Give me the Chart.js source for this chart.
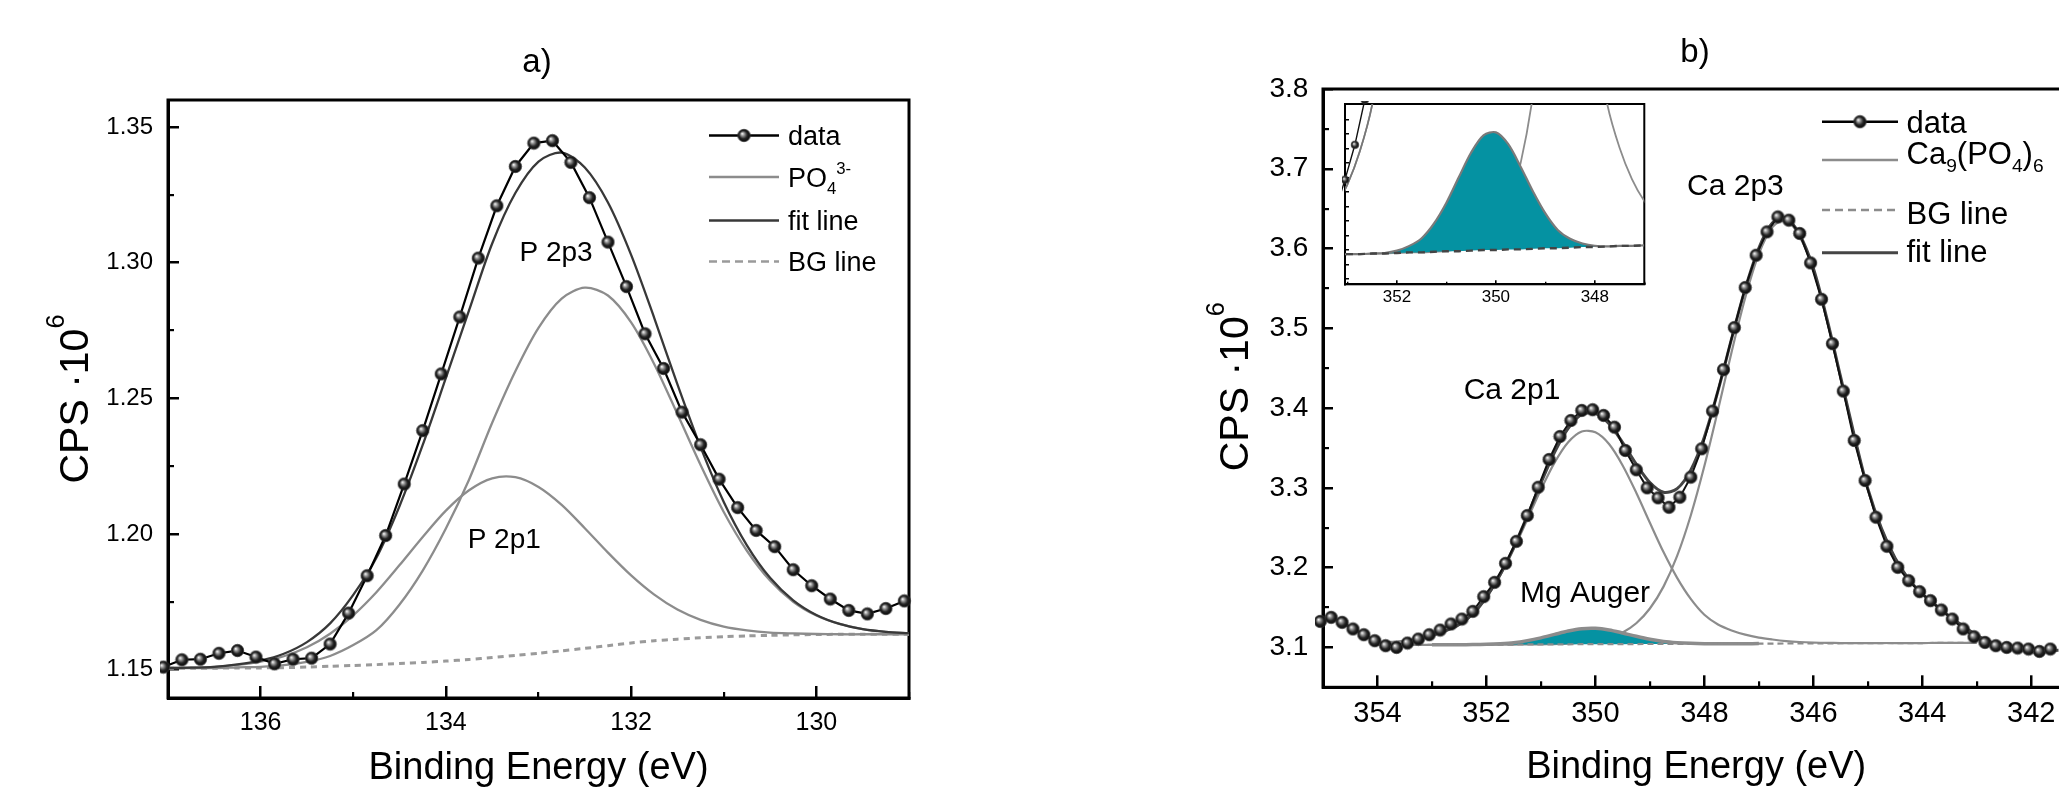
<!DOCTYPE html>
<html><head><meta charset="utf-8">
<script src="https://cdn.jsdelivr.net/npm/chart.js@4.4.1/dist/chart.umd.min.js"></script>
<style>
html,body{margin:0;padding:0;width:2059px;height:791px;overflow:hidden;background:#fff}
#wrap{position:relative;width:2059px;height:791px;overflow:hidden;background:#fff}
canvas{position:absolute}
#ca{left:0;top:0}
#cb{left:1150px;top:0}
#ci{left:1300px;top:80px}
</style></head><body><div id="wrap">
<canvas id="ca" width="1000" height="791"></canvas>
<canvas id="cb" width="960" height="791"></canvas>
<canvas id="ci" width="380" height="240"></canvas>
</div>
<script>
const FONT = "'Liberation Sans', Arial, Helvetica, sans-serif";

// ---------- Panel a) P 2p ----------
const aDataX = [137.05,136.85,136.65,136.45,136.25,136.05,135.85,135.65,135.45,135.25,135.05,134.85,134.65,134.45,134.25,134.05,133.85,133.65,133.45,133.25,133.05,132.85,132.65,132.45,132.25,132.05,131.85,131.65,131.45,131.25,131.05,130.85,130.65,130.45,130.25,130.05,129.85,129.65,129.45,129.25,129.05];
const aDataY = [1.1509,1.1536,1.1538,1.1560,1.1570,1.1546,1.1521,1.1538,1.1542,1.1594,1.1708,1.1846,1.1994,1.2184,1.2381,1.2590,1.2800,1.3017,1.3210,1.3355,1.3441,1.3450,1.3370,1.3240,1.3076,1.2912,1.2738,1.2610,1.2449,1.2329,1.2202,1.2097,1.2013,1.1953,1.1868,1.1809,1.1760,1.1718,1.1705,1.1725,1.1753];
const aGridX = [137,136.75,136.5,136.25,136,135.75,135.5,135.25,135,134.75,134.5,134.25,134,133.75,133.5,133.25,133,132.75,132.5,132.25,132,131.75,131.5,131.25,131,130.75,130.5,130.25,130,129.75,129.5,129.25,129];
const aBG   = [1.1505,1.1505,1.1505,1.1506,1.1506,1.1507,1.1509,1.1512,1.1515,1.1518,1.1522,1.1526,1.1531,1.1537,1.1544,1.1552,1.1560,1.1569,1.1578,1.1588,1.1598,1.1606,1.1612,1.1617,1.1621,1.1624,1.1626,1.1628,1.1629,1.1630,1.1630,1.1630,1.1630];
const aP2p3 = [1.1505,1.1505,1.1505,1.1508,1.1510,1.1516,1.1528,1.1550,1.1590,1.1645,1.1740,1.1865,1.2020,1.2200,1.2410,1.2600,1.2760,1.2868,1.2908,1.2879,1.2780,1.2626,1.2442,1.2254,1.2081,1.1938,1.1828,1.1750,1.1699,1.1668,1.1649,1.1639,1.1634];
const aP2p1 = [1.1506,1.1507,1.1510,1.1517,1.1529,1.1549,1.1582,1.1632,1.1700,1.1785,1.1885,1.1989,1.2086,1.2161,1.2205,1.2209,1.2173,1.2107,1.2021,1.1931,1.1847,1.1776,1.1721,1.1683,1.1658,1.1644,1.1636,1.1633,1.1631,1.1630,1.1630,1.1630,1.1630];
const aFit  = [1.1506,1.1507,1.1510,1.1519,1.1533,1.1558,1.1601,1.1670,1.1775,1.1912,1.2103,1.2328,1.2575,1.2824,1.3071,1.3257,1.3373,1.3406,1.3351,1.3222,1.3029,1.2796,1.2551,1.2320,1.2118,1.1958,1.1838,1.1755,1.1701,1.1668,1.1649,1.1639,1.1634];
const aXTicks = [130,132,134,136];
const aXMinor = [129,131,133,135,137];
const aYTicks = [1.15,1.20,1.25,1.30,1.35];
const aYMinor = [1.175,1.225,1.275,1.325];

// ---------- Panel b) Ca 2p ----------
const bDataX = [355.05,354.85,354.65,354.45,354.25,354.05,353.85,353.65,353.45,353.25,353.05,352.85,352.65,352.45,352.25,352.05,351.85,351.65,351.45,351.25,351.05,350.85,350.65,350.45,350.25,350.05,349.85,349.65,349.45,349.25,349.05,348.85,348.65,348.45,348.25,348.05,347.85,347.65,347.45,347.25,347.05,346.85,346.65,346.45,346.25,346.05,345.85,345.65,345.45,345.25,345.05,344.85,344.65,344.45,344.25,344.05,343.85,343.65,343.45,343.25,343.05,342.85,342.65,342.45,342.25,342.05,341.85,341.65];
const bDataY = [3.1326,3.1377,3.1314,3.1231,3.1159,3.1084,3.1021,3.1000,3.1055,3.1105,3.1159,3.1218,3.1294,3.1356,3.1452,3.1636,3.1816,3.2054,3.2330,3.2653,3.3008,3.3356,3.3644,3.3845,3.3971,3.3980,3.3908,3.3761,3.3469,3.3227,3.3000,3.2875,3.2757,3.2883,3.3134,3.3490,3.3962,3.4482,3.5009,3.5511,3.5916,3.6209,3.6397,3.6356,3.6189,3.5820,3.5364,3.4808,3.4213,3.3594,3.3092,3.2632,3.2268,3.2004,3.1837,3.1699,3.1586,3.1469,3.1356,3.1231,3.1134,3.1063,3.1021,3.1000,3.0992,3.0980,3.0950,3.0980];
const bGridX = [354,353.75,353.5,353.25,353,352.75,352.5,352.25,352,351.75,351.5,351.25,351,350.75,350.5,350.25,350,349.75,349.5,349.25,349,348.75,348.5,348.25,348,347.75,347.5,347.25,347,346.75,346.5,346.25,346,345.75,345.5,345.25,345,344.75,344.5,344.25,344,343.75,343.5,343.25,343];
const bBG  = [3.1030,3.1031,3.1031,3.1032,3.1033,3.1033,3.1034,3.1034,3.1035,3.1036,3.1036,3.1037,3.1038,3.1038,3.1039,3.1040,3.1040,3.1041,3.1041,3.1042,3.1043,3.1043,3.1044,3.1045,3.1045,3.1046,3.1047,3.1047,3.1048,3.1048,3.1049,3.1050,3.1050,3.1051,3.1052,3.1052,3.1053,3.1054,3.1054,3.1055,3.1055,3.1056,3.1057,3.1057,3.1058];
const b2p1 = [3.1054,3.1069,3.1085,3.1112,3.1151,3.1207,3.1286,3.1417,3.1627,3.1899,3.2231,3.2602,3.2978,3.3316,3.3572,3.3707,3.3696,3.3549,3.3281,3.2939,3.2563,3.2195,3.1872,3.1608,3.1409,3.1287,3.1213,3.1160,3.1123,3.1099,3.1080,3.1068,3.1061,3.1057,3.1055,3.1054,3.1054,3.1055,3.1055,3.1055,3.1055,3.1056,3.1057,3.1057,3.1058];
const b2p3 = [3.1030,3.1031,3.1031,3.1032,3.1033,3.1033,3.1034,3.1034,3.1035,3.1036,3.1036,3.1037,3.1038,3.1042,3.1047,3.1059,3.1079,3.1118,3.1187,3.1303,3.1488,3.1762,3.2147,3.2654,3.3273,3.3975,3.4704,3.5384,3.5932,3.6271,3.6349,3.6148,3.5733,3.5103,3.4381,3.3649,3.2981,3.2488,3.2116,3.1852,3.1666,3.1523,3.1386,3.1264,3.1148];
const bMgX = [353,352.75,352.5,352.25,352,351.75,351.5,351.25,351,350.75,350.5,350.25,350,349.75,349.5,349.25,349,348.75,348.5,348.25,348,347.75,347.5,347.25,347];
const bMg  = [3.1033,3.1033,3.1034,3.1035,3.1039,3.1047,3.1060,3.1085,3.1120,3.1163,3.1205,3.1234,3.1239,3.1219,3.1181,3.1139,3.1102,3.1074,3.1059,3.1051,3.1047,3.1046,3.1047,3.1047,3.1048];
const bFitX = [355.05,354.85,354.65,354.45,354.25,354.05,353.85,353.65,353.45,353.25,353,352.75,352.5,352.25,352,351.75,351.5,351.25,351,350.75,350.5,350.25,350,349.75,349.5,349.25,349,348.75,348.5,348.25,348,347.75,347.5,347.25,347,346.75,346.5,346.25,346,345.75,345.5,345.25,345,344.75,344.5,344.25,344,343.75,343.5,343.25,343,342.75,342.5,342.25,342,341.75,341.5];
const bFit = [3.1320,3.1360,3.1312,3.1232,3.1158,3.1085,3.1030,3.1015,3.1060,3.1112,3.1151,3.1207,3.1286,3.1418,3.1631,3.1910,3.2255,3.2650,3.3060,3.3445,3.3746,3.3920,3.3934,3.3804,3.3567,3.3297,3.3067,3.2945,3.2990,3.3223,3.3639,3.4216,3.4870,3.5497,3.6007,3.6322,3.6384,3.6172,3.5752,3.5119,3.4394,3.3660,3.2989,3.2494,3.2121,3.1856,3.1670,3.1527,3.1389,3.1268,3.1151,3.1065,3.1010,3.0990,3.0975,3.0960,3.0965];
const bXTicks = [342,344,346,348,350,352,354];
const bXMinor = [343,345,347,349,351,353,355];
const bYTicks = [3.1,3.2,3.3,3.4,3.5,3.6,3.7,3.8];
const bYMinor = [3.15,3.25,3.35,3.45,3.55,3.65,3.75];

// ---------- Inset (Mg Auger zoom) ----------
const iXTicks = [348,350,352];
const iXMinor = [347,349,351,353];
const iYMinor = [3.0991,3.1015,3.1040,3.1064,3.1089,3.1113,3.1138,3.1162,3.1187,3.1211,3.1236,3.1260];

// ---------- styles ----------
const TEAL = '#0592a2';
const GRAY = '#8c8c8c';

function sphere(r) {
  const s = Math.ceil(2 * r + 2);
  const c = document.createElement('canvas');
  c.width = s; c.height = s;
  const g = c.getContext('2d');
  const cx = s / 2, cy = s / 2;
  const gr = g.createRadialGradient(cx - r * 0.3, cy - r * 0.3, r * 0.05, cx, cy, r);
  gr.addColorStop(0, '#f2f2f2');
  gr.addColorStop(0.28, '#8e8e8e');
  gr.addColorStop(0.62, '#262626');
  gr.addColorStop(1, '#050505');
  g.fillStyle = gr;
  g.beginPath(); g.arc(cx, cy, r, 0, Math.PI * 2); g.fill();
  g.strokeStyle = '#3a3a3a'; g.lineWidth = 0.8; g.stroke();
  return c;
}
const SPH = sphere(6.2);
const SPH_S = sphere(3.8);

const pts = (xs, ys) => xs.map((x, i) => ({x: x, y: ys[i]}));

function drawRich(ctx, parts, x, y, size, align, rot, base) {
  ctx.save();
  ctx.translate(x, y);
  if (rot) ctx.rotate(rot);
  ctx.fillStyle = '#000';
  ctx.textBaseline = base;
  ctx.textAlign = 'left';
  const segs = parts.map(p => {
    const s = p.s ? size * 0.62 : size;
    ctx.font = s + 'px ' + FONT;
    return {t: p.t, s: s, w: ctx.measureText(p.t).width,
            dy: p.s === 'sub' ? size * 0.26 : (p.s === 'sup' ? -size * 0.48 : 0)};
  });
  const total = segs.reduce((a, b) => a + b.w, 0);
  let cx = align === 'center' ? -total / 2 : (align === 'right' ? -total : 0);
  segs.forEach(g => { ctx.font = g.s + 'px ' + FONT; ctx.fillText(g.t, cx, g.dy); cx += g.w; });
  ctx.restore();
}

function makeDecor(cfg) {
  return {
    id: cfg.id,
    beforeDraw(chart) {
      if (!cfg.whiteArea) return;
      const {ctx, chartArea: a} = chart;
      ctx.save(); ctx.fillStyle = '#fff';
      ctx.fillRect(a.left, a.top, a.right - a.left, a.bottom - a.top);
      ctx.restore();
    },
    beforeDatasetsDraw(chart) {
      const {ctx, chartArea: a} = chart;
      ctx.save(); ctx.strokeStyle = '#000'; ctx.lineWidth = cfg.frame;
      ctx.strokeRect(a.left, a.top, a.right - a.left, a.bottom - a.top);
      ctx.restore();
    },
    afterDraw(chart) {
      const ctx = chart.ctx;
      (cfg.texts || []).forEach(t => {
        let x = t.x, y = t.y;
        if (t.data) { x = chart.scales.x.getPixelForValue(t.x); y = chart.scales.y.getPixelForValue(t.y); }
        drawRich(ctx, t.parts, x, y, t.size, t.align || 'center', t.rot || 0, t.base || 'alphabetic');
      });
      (cfg.legend || []).forEach(L => {
        ctx.save();
        ctx.strokeStyle = L.color; ctx.lineWidth = L.width; ctx.setLineDash(L.dash || []);
        ctx.beginPath(); ctx.moveTo(L.x1, L.ly); ctx.lineTo(L.x2, L.ly); ctx.stroke();
        if (L.marker) ctx.drawImage(L.marker, (L.x1 + L.x2) / 2 - L.marker.width / 2, L.ly - L.marker.height / 2);
        ctx.restore();
        drawRich(ctx, L.parts, L.tx, L.ty, L.size, 'left', 0, 'alphabetic');
      });
    }
  };
}

function mkAxis(c) {
  const horiz = c.pos === 'bottom';
  return {
    type: 'linear', position: c.pos, weight: c.weight, min: c.min, max: c.max, reverse: !!c.reverse,
    afterBuildTicks: s => { s.ticks = c.ticks.map(v => ({value: v})); },
    afterFit: s => { if (horiz) s.height = c.size; else s.width = c.size; },
    ticks: {display: !!c.fmt, autoSkip: false, maxRotation: 0, minRotation: 0, padding: c.pad || 0, color: '#000',
            font: {family: FONT, size: c.font || 12}, callback: v => (c.fmt ? c.fmt(v) : '')},
    grid: {display: true, drawOnChartArea: false, drawTicks: true, tickLength: c.tl, tickColor: '#000',
           tickWidth: c.tw, lineWidth: c.tw, color: '#000'},
    border: {display: !!c.border, color: '#000', width: c.border || 0},
    title: c.title ? {display: true, text: c.title.text, color: '#000', font: {family: FONT, size: c.title.size},
                      padding: {top: 0, bottom: c.title.pad}} : {display: false}
  };
}

function lineDs(xs, ys, color, width, extra) {
  return Object.assign({
    data: pts(xs, ys), showLine: true, borderColor: color, borderWidth: width,
    pointRadius: 0, pointHoverRadius: 0, tension: 0.3, fill: false
  }, extra || {});
}

const baseOpts = {responsive: false, devicePixelRatio: 1, animation: false, events: [],
                  plugins: {legend: {display: false}, tooltip: {enabled: false}, title: {display: false}}};

// ---------- Chart a ----------
new Chart(document.getElementById('ca'), {
  type: 'scatter',
  data: {datasets: [
    lineDs(aGridX, aBG, '#9a9a9a', 3, {borderDash: [6, 5], order: 5, tension: 0.2}),
    lineDs(aGridX, aP2p3, GRAY, 2.3, {order: 4}),
    lineDs(aGridX, aP2p1, GRAY, 2.3, {order: 3}),
    lineDs(aGridX, aFit, '#383838', 2.3, {order: 2}),
    lineDs(aDataX, aDataY, '#000', 2.2, {order: 1, tension: 0, pointStyle: SPH, pointRadius: 6, clip: 8})
  ]},
  options: Object.assign({}, baseOpts, {
    layout: {padding: {left: 0, right: 91, top: 100, bottom: 0}},
    scales: {
      x: mkAxis({pos: 'bottom', weight: 1, min: 129, max: 137, reverse: true, ticks: aXTicks, fmt: v => String(v),
                 font: 25, pad: 22, tl: -12, tw: 2.5, size: 93, border: 3,
                 title: {text: 'Binding Energy (eV)', size: 38, pad: 0}}),
      x2: mkAxis({pos: 'bottom', weight: 0, min: 129, max: 137, reverse: true, ticks: aXMinor, tl: -6, tw: 2.2, size: 0}),
      y: mkAxis({pos: 'left', weight: 1, min: 1.1395, max: 1.36, ticks: aYTicks, fmt: v => v.toFixed(2),
                 font: 24, pad: 26, tl: -11, tw: 2.5, size: 168, border: 3}),
      y2: mkAxis({pos: 'left', weight: 0, min: 1.1395, max: 1.36, ticks: aYMinor, tl: -6, tw: 2.2, size: 0})
    }
  }),
  plugins: [makeDecor({
    id: 'decorA', frame: 3,
    texts: [
      {x: 537, y: 72, parts: [{t: 'a)'}], size: 33},
      {x: 76.5, y: 399, parts: [{t: 'CPS \u00B710'}, {t: '6', s: 'sup'}], size: 41, rot: -Math.PI / 2, base: 'middle'},
      {data: true, x: 132.81, y: 1.3033, parts: [{t: 'P 2p3'}], size: 28, base: 'middle'},
      {data: true, x: 133.37, y: 1.1975, parts: [{t: 'P 2p1'}], size: 28, base: 'middle'}
    ],
    legend: [
      {x1: 709, x2: 779, ly: 135.5, color: '#000', width: 2.5, marker: SPH, tx: 788, ty: 145, size: 27, parts: [{t: 'data'}]},
      {x1: 709, x2: 779, ly: 177, color: GRAY, width: 2.5, tx: 788, ty: 187, size: 27, parts: [{t: 'PO'}, {t: '4', s: 'sub'}, {t: '3-', s: 'sup'}]},
      {x1: 709, x2: 779, ly: 220.5, color: '#383838', width: 2.5, tx: 788, ty: 230, size: 27, parts: [{t: 'fit line'}]},
      {x1: 709, x2: 779, ly: 261.5, color: '#9a9a9a', width: 2.5, dash: [8, 5], tx: 788, ty: 270.5, size: 27, parts: [{t: 'BG line'}]}
    ]
  })]
});

// ---------- Chart b ----------
new Chart(document.getElementById('cb'), {
  type: 'scatter',
  data: {datasets: [
    lineDs(bGridX, b2p1, GRAY, 2.2, {order: 6}),
    lineDs(bGridX, b2p3, GRAY, 2.2, {order: 6}),
    lineDs(bMgX, bMg, GRAY, 3.5, {order: 5, fill: {target: 3, above: TEAL, below: TEAL}}),
    lineDs(bGridX, bBG, GRAY, 2.2, {order: 4, borderDash: [6, 4], tension: 0}),
    lineDs(bFitX, bFit, '#454545', 3, {order: 2}),
    lineDs(bDataX, bDataY, '#111', 2, {order: 1, tension: 0, pointStyle: SPH, pointRadius: 6, clip: 8})
  ]},
  options: Object.assign({}, baseOpts, {
    layout: {padding: {left: 0, right: 40.6, top: 89, bottom: 0}},
    scales: {
      x: mkAxis({pos: 'bottom', weight: 1, min: 341.3, max: 355, reverse: true, ticks: bXTicks, fmt: v => String(v),
                 font: 29, pad: 21.5, tl: -12, tw: 2.5, size: 103.7, border: 3,
                 title: {text: 'Binding Energy (eV)', size: 38, pad: 0.4}}),
      x2: mkAxis({pos: 'bottom', weight: 0, min: 341.3, max: 355, reverse: true, ticks: bXMinor, tl: -6, tw: 2.2, size: 0}),
      y: mkAxis({pos: 'left', weight: 1, min: 3.05, max: 3.8, ticks: bYTicks, fmt: v => v.toFixed(1),
                 font: 28, pad: 24.7, tl: -10, tw: 2.5, size: 173, border: 3}),
      y2: mkAxis({pos: 'left', weight: 0, min: 3.05, max: 3.8, ticks: bYMinor, tl: -6, tw: 2.2, size: 0})
    }
  }),
  plugins: [makeDecor({
    id: 'decorB', frame: 3,
    texts: [
      {x: 545, y: 62, parts: [{t: 'b)'}], size: 33},
      {x: 87, y: 386.7, parts: [{t: 'CPS \u00B710'}, {t: '6', s: 'sup'}], size: 41, rot: -Math.PI / 2, base: 'middle'},
      {data: true, x: 347.43, y: 3.6774, parts: [{t: 'Ca 2p3'}], size: 30, base: 'middle'},
      {data: true, x: 351.53, y: 3.4222, parts: [{t: 'Ca 2p1'}], size: 30, base: 'middle'},
      {data: true, x: 350.19, y: 3.1674, parts: [{t: 'Mg Auger'}], size: 30, base: 'middle'}
    ],
    legend: [
      {x1: 672, x2: 748, ly: 121.7, color: '#000', width: 2.5, marker: SPH, tx: 756.5, ty: 132.7, size: 31, parts: [{t: 'data'}]},
      {x1: 672, x2: 748, ly: 160, color: GRAY, width: 2.5, tx: 756.5, ty: 164, size: 31,
       parts: [{t: 'Ca'}, {t: '9', s: 'sub'}, {t: '(PO'}, {t: '4', s: 'sub'}, {t: ')'}, {t: '6', s: 'sub'}]},
      {x1: 672, x2: 748, ly: 210, color: GRAY, width: 2.5, dash: [8, 5], tx: 756.5, ty: 224, size: 31, parts: [{t: 'BG line'}]},
      {x1: 672, x2: 748, ly: 252.7, color: '#454545', width: 3, tx: 756.5, ty: 261.5, size: 31, parts: [{t: 'fit line'}]}
    ]
  })]
});

// ---------- Inset ----------
new Chart(document.getElementById('ci'), {
  type: 'scatter',
  data: {datasets: [
    lineDs(bGridX, b2p1, GRAY, 1.8, {order: 6}),
    lineDs(bGridX, b2p3, GRAY, 1.8, {order: 6}),
    lineDs(bMgX, bMg, '#7a7a7a', 2.2, {order: 5, fill: {target: 3, above: TEAL, below: TEAL}}),
    lineDs(bGridX, bBG, '#444', 2.4, {order: 4, borderDash: [7, 5], tension: 0}),
    lineDs(bFitX, bFit, '#777', 1.6, {order: 2}),
    lineDs(bDataX, bDataY, '#111', 1.4, {order: 1, tension: 0, pointStyle: SPH_S, pointRadius: 3.8, clip: 3})
  ]},
  options: Object.assign({}, baseOpts, {
    layout: {padding: {left: 0, right: 35.7, top: 24, bottom: 0}},
    scales: {
      x: mkAxis({pos: 'bottom', weight: 1, min: 347, max: 353.05, reverse: true, ticks: iXTicks, fmt: v => String(v),
                 font: 17, pad: 6.8, tl: -4, tw: 1.6, size: 35.7, border: 2}),
      x2: mkAxis({pos: 'bottom', weight: 0, min: 347, max: 353.05, reverse: true, ticks: iXMinor, tl: -2.5, tw: 1.4, size: 0}),
      y: mkAxis({pos: 'left', weight: 1, min: 3.0982, max: 3.1287, ticks: iYMinor, tl: -4, tw: 1.5, size: 45, border: 2})
    }
  }),
  plugins: [makeDecor({id: 'decorI', frame: 2, whiteArea: true})]
});
</script></body></html>
